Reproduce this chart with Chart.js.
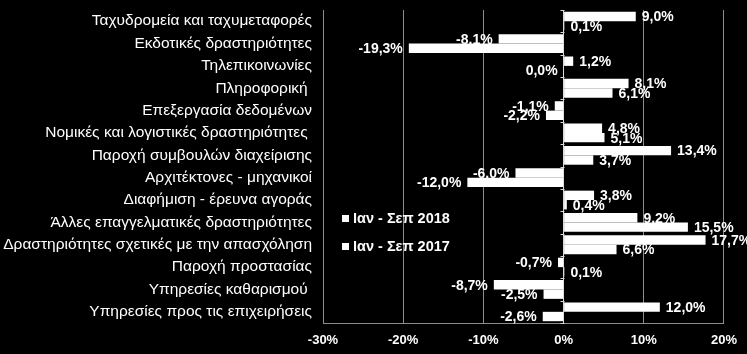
<!DOCTYPE html>
<html>
<head>
<meta charset="utf-8">
<script src="https://cdn.jsdelivr.net/npm/chart.js@4"></script>
<style>
    html, body { margin: 0; padding: 0; background: #000; }
    canvas { display: block; }
</style>
</head>
<body>
<canvas id="myChart" width="747" height="354"></canvas>
<script>
const categories = [
    'Ταχυδρομεία και ταχυμεταφορές',
    'Εκδοτικές δραστηριότητες',
    'Τηλεπικοινωνίες',
    'Πληροφορική ',
    'Επεξεργασία δεδομένων',
    'Νομικές και λογιστικές δραστηριότητες ',
    'Παροχή συμβουλών διαχείρισης',
    'Αρχιτέκτονες - μηχανικοί',
    'Διαφήμιση - έρευνα αγοράς',
    'Άλλες επαγγελματικές δραστηριότητες',
    'Δραστηριότητες σχετικές με την απασχόληση',
    'Παροχή προστασίας',
    'Υπηρεσίες καθαρισμού ',
    'Υπηρεσίες προς τις επιχειρήσεις'
];
const series_names = ['Ιαν - Σεπ 2018', 'Ιαν - Σεπ 2017'];
const values_2018 = [9.0, -8.1, 1.2, 8.1, -1.1, 4.8, 13.4, -6.0, 3.8, 9.2, 17.7, -0.7, -8.7, 12.0];
const values_2017 = [0.1, -19.3, 0.0, 6.1, -2.2, 5.1, 3.7, -12.0, 0.4, 15.5, 6.6, 0.1, -2.5, -2.6];
const x_min = -30;
const x_max = 20;
const x_step = 10;

const FONT = '"Liberation Sans", Arial, sans-serif';

// value labels at the end of each bar
const barLabels = {
    id: 'barLabels',
    afterDatasetsDraw(chart) {
        const ctx = chart.ctx;
        ctx.save();
        ctx.font = 'bold 14px ' + FONT;
        ctx.fillStyle = '#fff';
        ctx.textBaseline = 'middle';
        chart.data.datasets.forEach((ds, i) => {
            chart.getDatasetMeta(i).data.forEach((bar, j) => {
                const v = ds.data[j];
                const txt = v.toFixed(1).replace('.', ',') + '%';
                if (v > 0) {
                    ctx.textAlign = 'left';
                    ctx.fillText(txt, bar.x + 6, bar.y + 1);
                } else {
                    ctx.textAlign = 'right';
                    ctx.fillText(txt, bar.x - 6, bar.y + 1);
                }
            });
        });
        ctx.restore();
    }
};

// small tick marks on the zero line + legend inside the plot
const extras = {
    id: 'extras',
    afterDraw(chart) {
        const ctx = chart.ctx;
        const area = chart.chartArea;
        const x0 = Math.round(chart.scales.x.getPixelForValue(0)) + 0.5;
        const n = categories.length;
        const step = (area.bottom - area.top) / n;
        ctx.save();
        ctx.strokeStyle = '#d9d9d9';
        ctx.lineWidth = 1;
        ctx.beginPath();
        for (let i = 0; i <= n; i++) {
            const y = Math.round(area.top + i * step) + 0.5;
            ctx.moveTo(x0 - 4, y);
            ctx.lineTo(x0, y);
        }
        ctx.stroke();

        ctx.font = 'bold 14.5px ' + FONT;
        ctx.fillStyle = '#fff';
        ctx.textBaseline = 'middle';
        ctx.textAlign = 'left';
        series_names.forEach((name, i) => {
            const y = 218 + i * 28;
            ctx.fillRect(342, y - 3, 7, 7);
            ctx.fillText(name, 353, y + 1);
        });
        ctx.restore();
    }
};

const ctx = document.getElementById('myChart').getContext('2d');
// noinspection JSUnresolvedReference
const statGraph = new Chart(ctx, {
    type: 'bar',
    data: {
        labels: categories,
        datasets: [{
            label: series_names[0],
            data: values_2018,
            backgroundColor: '#ffffff',
            borderWidth: 0
        }, {
            label: series_names[1],
            data: values_2017,
            backgroundColor: '#ffffff',
            borderWidth: 0
        }]
    },
    options: {
        indexAxis: 'y',
        responsive: false,
        animation: false,
        categoryPercentage: 0.84,
        barPercentage: 1.0,
        layout: { padding: { top: 10, right: 22, left: 0, bottom: 0 } },
        plugins: {
            legend: { display: false },
            tooltip: { enabled: false }
        },
        scales: {
            x: {
                min: x_min,
                max: x_max,
                ticks: {
                    stepSize: x_step,
                    color: '#fff',
                    font: { family: FONT, size: 13, weight: 'bold' },
                    padding: 10,
                    callback: v => v + '%'
                },
                grid: {
                    drawTicks: false,
                    color: c => (c.tick && c.tick.value === 0) ? '#d9d9d9' : '#8c8c8c'
                },
                border: { color: '#8c8c8c' },
                afterFit(scale) { scale.height = 31; }
            },
            y: {
                grid: { display: false, drawTicks: false },
                border: { display: false },
                ticks: {
                    color: '#fff',
                    autoSkip: false,
                    padding: 11,
                    font: { family: FONT, size: 15.5 }
                },
                afterFit(scale) {
                    scale.width = 323;
                    scale.paddingTop = 0;
                    scale.paddingBottom = 0;
                }
            }
        }
    },
    plugins: [barLabels, extras]
});
</script>
</body>
</html>
